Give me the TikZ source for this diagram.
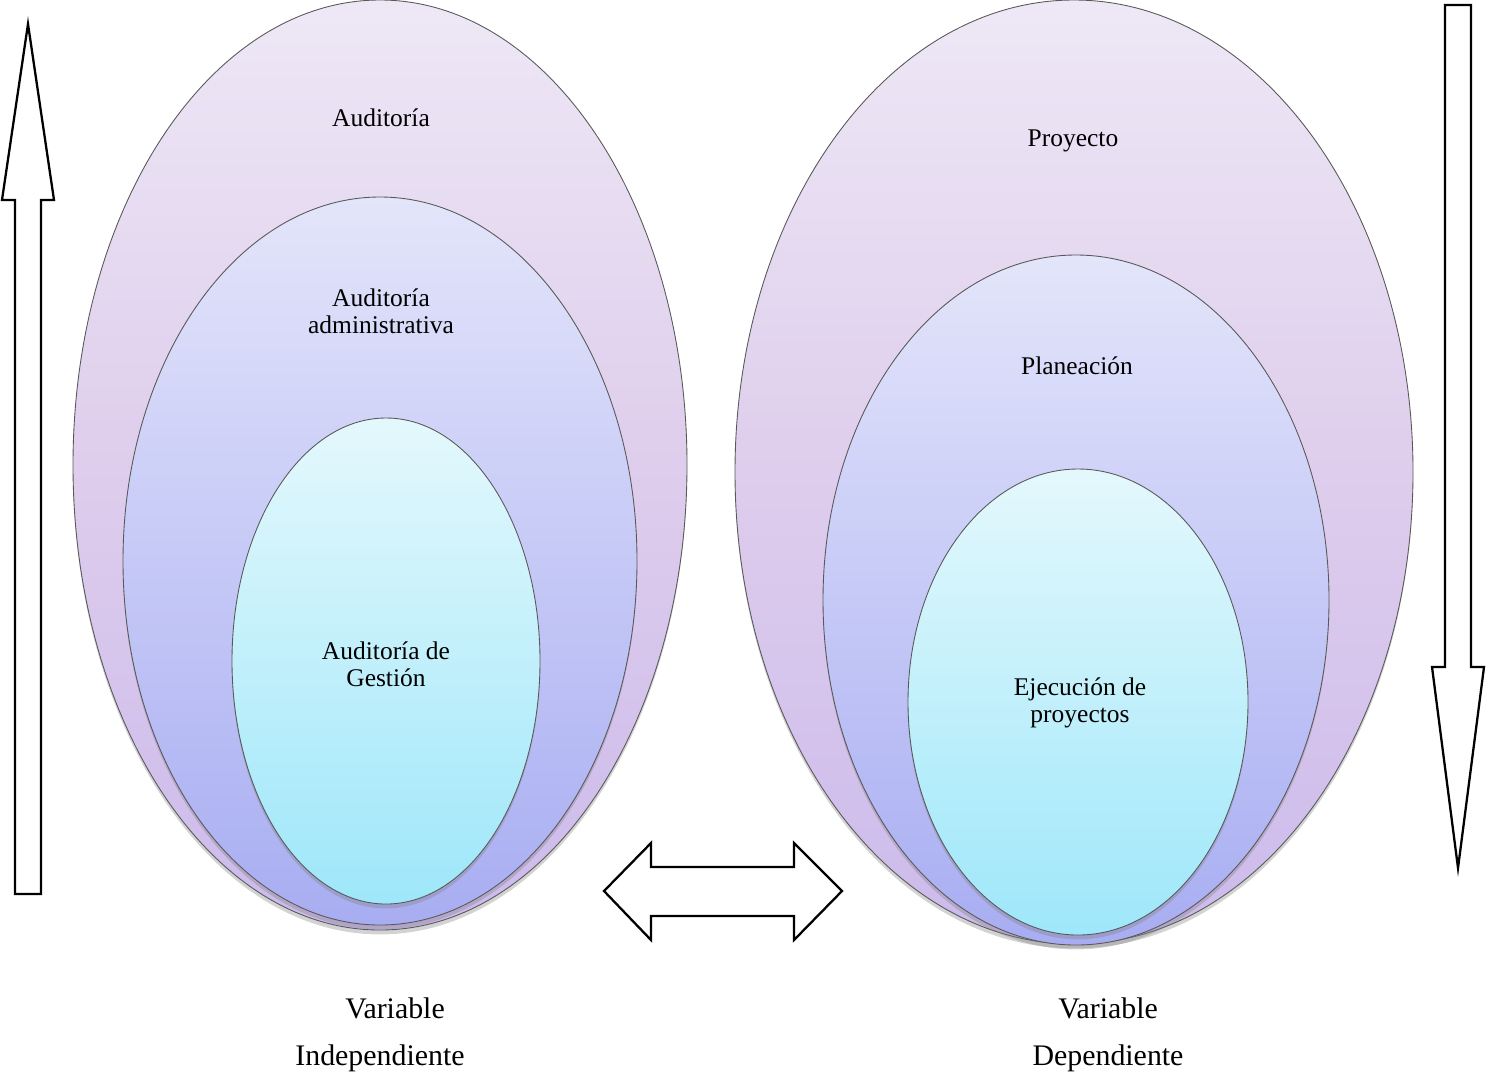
\documentclass[tikz,border=0pt]{standalone}
\usepackage{fontspec}
\setmainfont{Liberation Serif}
\usepackage{tikz}
\usetikzlibrary{shadows,positioning}

\definecolor{outtop}{HTML}{EEE8F6}
\definecolor{outmid}{HTML}{DECDEC}
\definecolor{outbot}{HTML}{CCBAEC}
\definecolor{midtop}{HTML}{E3E5FA}
\definecolor{midbot}{HTML}{A8ADF2}
\definecolor{intop}{HTML}{E4F8FC}
\definecolor{inbot}{HTML}{9EE7FA}

\tikzset{
  outer/.style={draw=black!65, line width=0.5pt, top color=outtop, bottom color=outbot, middle color=outmid,
    drop shadow={shadow xshift=0pt, shadow yshift=-2.5pt, opacity=0.35}},
  middle/.style={draw=black!65, line width=0.5pt, top color=midtop, bottom color=midbot,
    drop shadow={shadow xshift=0pt, shadow yshift=-2.5pt, opacity=0.35}},
  inner/.style={draw=black!65, line width=0.5pt, top color=intop, bottom color=inbot,
    drop shadow={shadow xshift=0pt, shadow yshift=-2.5pt, opacity=0.35}},
  blockarrow/.style={draw=black, line width=1.3pt, fill=white, line join=miter},
  lbl/.style={align=center, font=\fontsize{14.5}{15.5}\selectfont},
  var/.style={align=center, font=\fontsize{17}{18}\selectfont}
}

\begin{document}
\begin{tikzpicture}[x=0.02cm, y=-0.02cm]
\useasboundingbox (0,0) rectangle (1486,1083);

%left ovals
\path[outer] (380,465) ellipse (307 and 465);
\path[middle] (380,561) ellipse (257 and 364);
\path[inner] (386,661) ellipse (154 and 243);

%right ovals
\path[outer] (1074,472) ellipse (339 and 472);
\path[middle] (1076,600) ellipse (253 and 345);
\path[inner] (1078,702) ellipse (170 and 233);

%labels
\node[lbl] (audit) at (381,118) {Auditoría};
\node[lbl] (admin) at (381,311) {Auditoría\\administrativa};
\node[lbl] (gestion) at (386,664) {Auditoría de\\Gestión};
\node[lbl] (proy) at (1073,141) {Proyecto};
\node[lbl] (plan) at (1077,366) {Planeación};
\node[lbl] (ejec) at (1080,703) {Ejecución de\\proyectos};

%up arrow
\draw[blockarrow] (15,894) -- (15,200) -- (2,200) -- (28,24) -- (54,200) -- (41,200) -- (41,894) -- cycle;

%down arrow
\draw[blockarrow] (1445,5) -- (1445,667) -- (1432,667) -- (1458,868) -- (1484,667) -- (1471,667) -- (1471,5) -- cycle;

%double arrow
\draw[blockarrow] (604,891) -- (651,843) -- (651,867) -- (794,867) -- (794,843) -- (842,891)
  -- (794,940) -- (794,916) -- (651,916) -- (651,940) -- cycle;

%variables
\node[var] (varind) at (395,1008) {Variable};
\node[var] (ind) at (380,1058) {Independiente};
\node[var] (vardep) at (1108,1008) {Variable};
\node[var] (dep) at (1108,1058) {Dependiente};
\end{tikzpicture}
\end{document}
